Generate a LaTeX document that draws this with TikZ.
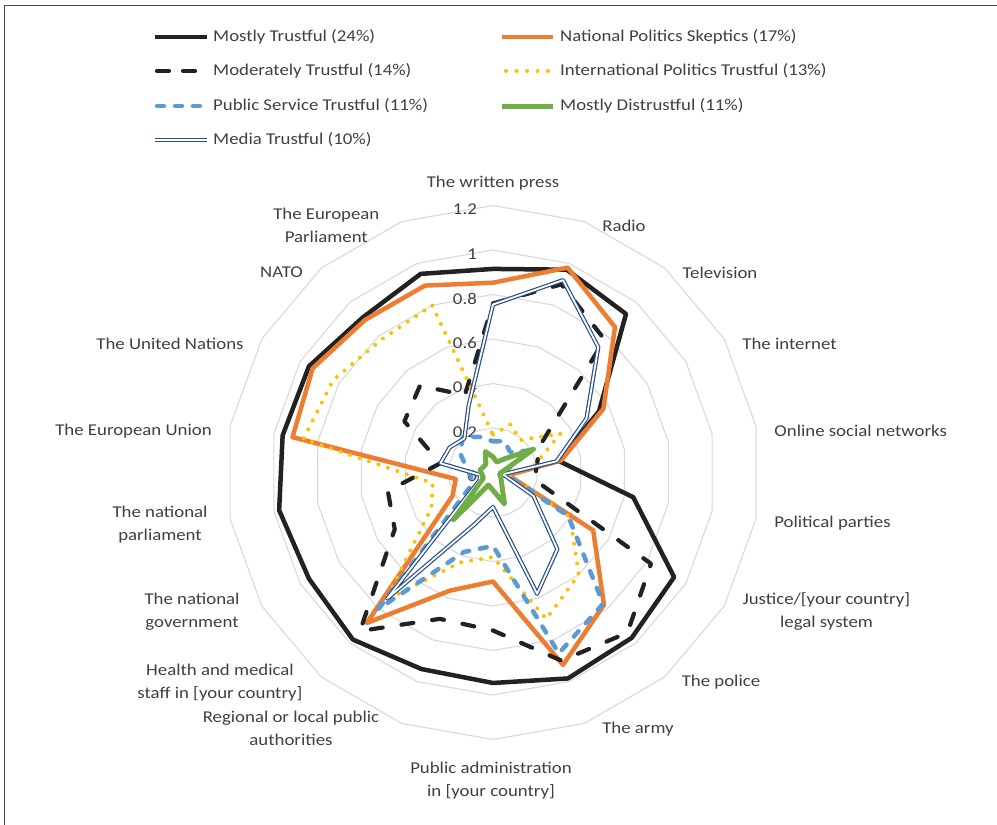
\documentclass[tikz,border=0pt]{standalone}
\usepackage{fontspec}
\usetikzlibrary{calc}
\setmainfont{Carlito}[FakeStretch=1.14]
\definecolor{mtblack}{HTML}{222222}
\definecolor{npsorange}{HTML}{ED7D31}
\definecolor{iptyellow}{HTML}{FFC000}
\definecolor{pstblue}{HTML}{5B9BD5}
\definecolor{mdgreen}{HTML}{70AD47}
\definecolor{medblue}{HTML}{24508C}
\definecolor{ringgray}{HTML}{D9D9D9}
\definecolor{txtgray}{HTML}{404040}
\definecolor{framegray}{HTML}{4A4A4A}
\newcommand\defseries[2]{\foreach \v [count=\i from 0] in {#2}{\coordinate (#1-\i) at ({493+222.5*\v*sin(20*\i)},{472.5-222.5*\v*cos(20*\i)});}}
\newcommand\drawseries[2]{\draw[#2] (#1-0) \foreach \i in {1,...,17}{-- (#1-\i)} -- cycle;}
\begin{document}
\begin{tikzpicture}[x=1pt,y=-1pt,
 lbl/.style={font=\fontsize{16.5}{22.5}\selectfont, text=txtgray, inner sep=0pt, align=center},
 ring/.style={draw=ringgray, line width=1.1pt},
 smt/.style={draw=mtblack, line width=4.5pt, line join=round},
 snps/.style={draw=npsorange, line width=4.5pt, line join=round},
 smod/.style={draw=mtblack, line width=4.2pt, line cap=round, line join=round, dash pattern=on 12pt off 19pt},
 sipt/.style={draw=iptyellow, line width=4pt, line cap=round, dash pattern=on 0pt off 10pt},
 spst/.style={draw=pstblue, line width=4.5pt, line cap=round, line join=round, dash pattern=on 7pt off 11pt},
 smd/.style={draw=mdgreen, line width=5pt, line join=round},
 smed/.style={draw=medblue, line width=1.2pt, double=white, double distance=1.8pt, line join=round},
 frame/.style={draw=framegray, line width=1.8pt}]
\useasboundingbox (0,0) rectangle (997,825);
\fill[white] (0,0) rectangle (997,825);
% frame
\coordinate (fa) at (997,5.5);
\coordinate (fb) at (4.5,5.5);
\coordinate (fc) at (4.5,825);
\draw[frame] (fa) -- (fb) -- (fc);
% rings
\foreach \r in {0.2,0.4,0.6,0.8,1.0,1.2}{
 \draw[ring] (493,{472.5-222.5*\r}) \foreach \i in {1,...,17}{-- ({493+222.5*\r*sin(20*\i)},{472.5-222.5*\r*cos(20*\i)})} -- cycle;
}
% tick labels
\foreach \t/\s [count=\n] in {0/0,0.2/0.2,0.4/0.4,0.6/0.6,0.8/0.8,1/1,1.2/1.2}{
 \node[lbl, anchor=east] (tick\n) at (477,{476.5-222.5*\t}) {\s};
}
% category labels
\node[lbl] (c0) at (493,183) {The written press};
\node[lbl] (c1) at (624,225.5) {Radio};
\node[lbl] (c2) at (720,272.5) {Television};
\node[lbl] (c3) at (789.5,344) {The internet};
\node[lbl] (c4) at (860.7,431) {Online social networks};
\node[lbl] (c5) at (832.5,523) {Political parties};
\node[lbl] (c6) at (826.5,611.5) {Justice/[your country]\\legal system};
\node[lbl] (c7) at (721,682) {The police};
\node[lbl] (c8) at (638,729) {The army};
\node[lbl] (c9) at (491,780.5) {Public administration\\in [your country]};
\node[lbl] (c10) at (291,728.5) {Regional or local public\\authorities};
\node[lbl] (c11) at (220,682.5) {Health and medical\\staff in [your country]};
\node[lbl] (c12) at (192,611.5) {The national\\government};
\node[lbl] (c13) at (160,524.5) {The national\\parliament};
\node[lbl] (c14) at (133.5,431) {The European Union};
\node[lbl] (c15) at (170,343.5) {The United Nations};
\node[lbl] (c16) at (281.5,272.5) {NATO};
\node[lbl] (c17) at (326.3,225.5) {The European\\Parliament};
% data
\defseries{mt}{0.915,0.97,0.93,0.55,0.30,0.64,0.94,0.97,0.985,0.946,0.94,0.98,0.955,0.976,0.96,0.955,0.91,0.95}
\defseries{nps}{0.853,0.98,0.853,0.573,0.31,0.07,0.52,0.776,0.92,0.49,0.565,0.883,0.21,0.17,0.915,0.936,0.895,0.894}
\defseries{mod}{0.76,0.90,0.78,0.245,0.20,0.19,0.82,0.94,0.90,0.71,0.70,0.93,0.51,0.48,0.24,0.46,0.51,0.37}
\defseries{ipt}{0.17,0.23,0.19,0.35,0.19,0.07,0.40,0.60,0.70,0.38,0.43,0.75,0.32,0.275,0.865,0.83,0.78,0.80}
\defseries{pst}{0.14,0.15,0.12,0.20,0.06,0.06,0.39,0.77,0.865,0.33,0.38,0.80,0.11,0.10,0.12,0.17,0.21,0.17}
\defseries{md}{0.07,0.05,0.08,0.21,0.05,0.03,0.04,0.06,0.15,0.08,0.06,0.277,0.05,0.05,0.06,0.05,0.05,0.10}
\defseries{med}{0.755,0.92,0.736,0.485,0.29,0.045,0.21,0.45,0.58,0.155,0.25,0.74,0.07,0.06,0.24,0.225,0.20,0.32}
\drawseries{mt}{smt}
\drawseries{nps}{snps}
\drawseries{mod}{smod}
\drawseries{ipt}{sipt}
\drawseries{pst}{spst}
\drawseries{med}{smed}
\drawseries{md}{smd}
% legend
\coordinate (l1a) at (155,37);  \coordinate (l1b) at (207,37);
\coordinate (l2a) at (502,37);  \coordinate (l2b) at (553,37);
\coordinate (l3a) at (157,71);  \coordinate (l3b) at (207,71);
\coordinate (l4a) at (506,71);  \coordinate (l4b) at (553,71);
\coordinate (l5a) at (157,106); \coordinate (l5b) at (207,106);
\coordinate (l6a) at (502,106); \coordinate (l6b) at (553,106);
\coordinate (l7a) at (155,140); \coordinate (l7b) at (207,140);
\draw[smt] (l1a) -- (l1b);
\draw[snps] (l2a) -- (l2b);
\draw[smod, dash pattern=on 12pt off 14pt] (l3a) -- (l3b);
\draw[sipt, dash pattern=on 0pt off 10.5pt] (l4a) -- (l4b);
\draw[spst] (l5a) -- (l5b);
\draw[smd] (l6a) -- (l6b);
\draw[smed] (l7a) -- (l7b);
\node[lbl, anchor=west] (t1) at (213,37) {Mostly Trustful (24\%)};
\node[lbl, anchor=west] (t2) at (560,37) {National Politics Skeptics (17\%)};
\node[lbl, anchor=west] (t3) at (213,71) {Moderately Trustful (14\%)};
\node[lbl, anchor=west] (t4) at (560,71) {International Politics Trustful (13\%)};
\node[lbl, anchor=west] (t5) at (213,106) {Public Service Trustful (11\%)};
\node[lbl, anchor=west] (t6) at (560,106) {Mostly Distrustful (11\%)};
\node[lbl, anchor=west] (t7) at (213,140) {Media Trustful (10\%)};
\end{tikzpicture}
\end{document}
